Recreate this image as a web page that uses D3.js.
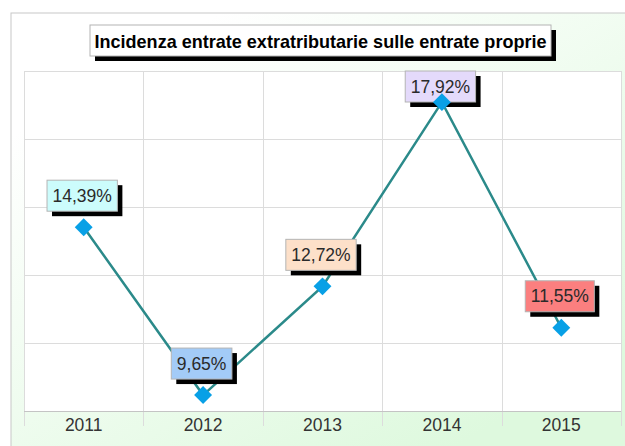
<!DOCTYPE html>
<html>
<head>
<meta charset="utf-8">
<script src="https://cdn.jsdelivr.net/npm/d3@7"></script>
<style>
  html, body { margin: 0; padding: 0; background: #fff; }
  svg { display: block; }
</style>
</head>
<body>
<svg id="chart" width="625" height="446"></svg>
<script>
// data
const years = ['2011', '2012', '2013', '2014', '2015'];
const values = [14.39, 9.65, 12.72, 17.92, 11.55];
const labelColors = ['#ccfcfc', '#a3cbf7', '#fde0c9', '#e4dafb', '#fb7f7f'];
const title = 'Incidenza entrate extratributarie sulle entrate proprie';

const W = 625, H = 446;
const plot = {left: 24, right: 621, top: 71, bottom: 411};
const fmt = v => d3.format('.2f')(v).replace('.', ',') + '%';

const svg = d3.select('#chart');
const defs = svg.append('defs');

// background: white top-left fading to a pale green
const grad = defs.append('linearGradient')
    .attr('id', 'bg')
    .attr('x1', 0.1).attr('y1', 0.05)
    .attr('x2', 0.8).attr('y2', 0.9)
  ;
grad.append('stop').attr('offset', 0.1).attr('stop-color', '#ffffff');
grad.append('stop').attr('offset', 1).attr('stop-color', '#def9de');

svg.append('rect')
    .attr('x', 11).attr('y', 13)
    .attr('width', W).attr('height', H)
    .attr('fill', 'url(#bg)')
    .attr('stroke', '#c8c8c8')
  ;

const x = d3.scaleBand().domain(years).range([plot.left, plot.right]).padding(0);
const y = d3.scaleLinear().domain([9.2, 18.8]).range([plot.bottom, plot.top]);
const gridVals = d3.range(6).map(i => 9.2 + i * 1.92);

// plot area
svg.append('rect')
    .attr('x', plot.left).attr('y', plot.top)
    .attr('width', plot.right - plot.left).attr('height', plot.bottom - plot.top)
    .attr('fill', '#fff')
  ;
svg.append('g')
  .selectAll('line')
  .data(gridVals)
  .join('line')
    .attr('x1', plot.left).attr('x2', plot.right)
    .attr('y1', d => Math.round(y(d)) + 0.5).attr('y2', d => Math.round(y(d)) + 0.5)
    .attr('stroke', '#dcdcdc')
  ;
svg.append('g')
  .selectAll('line')
  .data(years.map(d => x(d)).concat([plot.right]))
  .join('line')
    .attr('x1', d => Math.round(d) + 0.5).attr('x2', d => Math.round(d) + 0.5)
    .attr('y1', plot.top).attr('y2', plot.bottom + 15)
    .attr('stroke', '#dcdcdc')
  ;
svg.append('line')
    .attr('x1', plot.left).attr('x2', plot.right)
    .attr('y1', plot.bottom + 0.5).attr('y2', plot.bottom + 0.5)
    .attr('stroke', '#c4c4c4')
  ;

// x axis labels
const xAxis = svg.append('g')
    .attr('transform', `translate(0,${plot.bottom})`)
    .call(d3.axisBottom(x).tickSize(0).tickPadding(8));
xAxis.select('.domain').remove();
xAxis.selectAll('text')
    .attr('font-family', 'Liberation Sans, Arial, sans-serif')
    .attr('font-size', 17.5)
    .attr('fill', '#333')
  ;

const cx = (d, i) => x(years[i]) + x.bandwidth() / 2;

// line
svg.append('path')
    .datum(values)
    .attr('fill', 'none')
    .attr('stroke', '#2b8a8a')
    .attr('stroke-width', 2.5)
    .attr('d', d3.line().x(cx).y(d => y(d)))
  ;

// value labels
const labels = svg.append('g')
  .selectAll('g')
  .data(values)
  .join('g')
    .attr('font-family', 'Liberation Sans, Arial, sans-serif')
    .attr('font-size', 17.5)
  ;
labels.each(function (d, i) {
  const g = d3.select(this);
  const t = g.append('text').text(fmt(d)).attr('text-anchor', 'middle').attr('fill', '#2a2a2a');
  const w = t.node().getComputedTextLength() + 11;
  const h = 31;
  const top = Math.max(plot.top, y(d) - 16 - h);
  const left = cx(d, i) - 1.5 - w / 2;
  g.insert('rect', 'text')
      .attr('x', left + 5).attr('y', top + 5)
      .attr('width', w).attr('height', h)
      .attr('fill', '#000')
    ;
  g.insert('rect', 'text')
      .attr('x', left).attr('y', top)
      .attr('width', w).attr('height', h)
      .attr('fill', labelColors[i])
      .attr('stroke', '#b4b4b4')
    ;
  t.attr('x', left + w / 2).attr('y', top + h / 2 + 6);
});

// markers
svg.append('g')
  .selectAll('path')
  .data(values)
  .join('path')
    .attr('d', d3.symbol(d3.symbolSquare, 160))
    .attr('transform', (d, i) => `translate(${cx(d, i)},${y(d)}) rotate(45)`)
    .attr('fill', '#08a0e6')
  ;

// title box
const tb = {x: 90, y: 25, w: 461, h: 31};
svg.append('rect')
    .attr('x', tb.x + 5).attr('y', tb.y + 5)
    .attr('width', tb.w).attr('height', tb.h)
    .attr('fill', '#000')
  ;
svg.append('rect')
    .attr('x', tb.x).attr('y', tb.y)
    .attr('width', tb.w).attr('height', tb.h)
    .attr('fill', '#fff')
    .attr('stroke', '#b4b4b4')
  ;
svg.append('text')
    .attr('x', tb.x + tb.w / 2).attr('y', tb.y + tb.h / 2 + 7)
    .attr('text-anchor', 'middle')
    .attr('font-family', 'Liberation Sans, Arial, sans-serif')
    .attr('font-weight', 'bold')
    .attr('font-size', 19)
    .attr('textLength', 452)
    .attr('lengthAdjust', 'spacingAndGlyphs')
    .attr('fill', '#000')
    .text(title)
  ;
</script>
</body>
</html>
